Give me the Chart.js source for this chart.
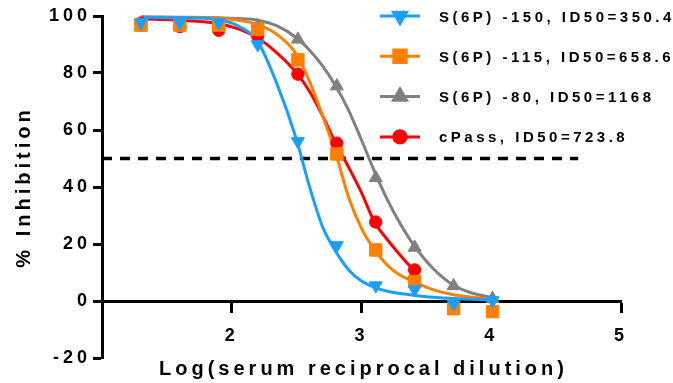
<!DOCTYPE html>
<html>
<head>
<meta charset="utf-8">
<script src="https://cdn.jsdelivr.net/npm/chart.js@4.4.1/dist/chart.umd.min.js"></script>
<style>
  html, body { margin: 0; padding: 0; background: #fff; }
  #wrap { width: 673px; height: 383px; }
</style>
</head>
<body>
<div id="wrap"><canvas id="chart" width="673" height="383"></canvas></div>
<script>
// log10 of the serum dilutions (1:20 ... 1:10240)
const dilutionX = [1.30, 1.60, 1.90, 2.20, 2.51, 2.81, 3.11, 3.41, 3.71, 4.01];

// measured % inhibition per sample
const s150Points = [97.7, 97.7, 97.7, 90.0, 56.0, 19.5, 5.4, 4.0, -1.0, 0.2];
const s115Points = [96.8, 96.8, 96.8, 95.3, 84.6, 51.6, 17.9, 6.8, -2.7, -3.7];
const s80Points  = [96.5, 97.0, 97.0, 96.5, 91.8, 75.4, 43.2, 18.8, 5.3, 0.8];
const cPassPoints = [97.5, 96.3, 95.0, 93.0, 79.6, 55.4, 27.7, 10.9];

// fitted curves
const curveX = [1.30, 1.60, 1.90, 2.05, 2.20, 2.35, 2.50, 2.60, 2.70, 2.80,
                2.90, 3.00, 3.10, 3.20, 3.30, 3.40, 3.55, 3.70, 3.85, 4.01];
const s150Curve = [99.5, 99.4, 98.7, 96.5, 91.0, 76.0, 56.5, 40.0, 26.0, 17.5,
                   11.0, 7.0, 4.8, 3.4, 2.6, 2.0, 1.3, 0.9, 0.6, 0.4];
const s115Curve = [99.6, 99.5, 99.2, 98.5, 97.0, 93.5, 86.5, 77.0, 65.0, 52.0,
                   36.5, 25.5, 18.0, 12.5, 9.0, 6.8, 4.0, 2.3, 1.3, 0.6];
const s80Curve  = [99.7, 99.6, 99.4, 99.1, 98.5, 96.5, 92.3, 88.0, 82.5, 75.5,
                   67.0, 56.5, 45.5, 35.5, 27.0, 19.8, 11.5, 5.8, 2.8, 1.2];
const cPassCurve = [99.0, 98.5, 97.3, 95.5, 92.3, 87.0, 80.0, 73.5, 65.0, 55.5,
                    47.0, 38.0, 27.7, 21.5, 16.0, 10.9];

const refX = [1.0, 4.67];
const refY = [50, 50];

const seriesLabels = ['S(6P) -150, ID50=350.4', 'S(6P) -115, ID50=658.6', 'S(6P) -80, ID50=1168', 'cPass, ID50=723.8'];
const seriesColors = ['#1a9ffa', '#ff8000', '#808080', '#ff0000'];
const seriesMarkers = [
  { pointStyle: 'triangle', rotation: 180, radius: 7.5 },
  { pointStyle: 'rect', rotation: 0, radius: 8.8 },
  { pointStyle: 'triangle', rotation: 0, radius: 7.5 },
  { pointStyle: 'circle', rotation: 0, radius: 6.2 }
];

const xTickValues = [2, 3, 4, 5];
const yTickValues = [-20, 0, 20, 40, 60, 80, 100];
const xTitle = 'Log(serum reciprocal dilution)';
const yTitle = '% Inhibition';

const FONT = '"Liberation Sans", Arial, sans-serif';
const SPACING = '4px';

const toXY = (xs, ys) => ys.map((y, i) => ({ x: xs[i], y }));

const pointSets = [s150Points, s115Points, s80Points, cPassPoints];
const curveSets = [s150Curve, s115Curve, s80Curve, cPassCurve];

const datasets = [];
pointSets.forEach((ys, i) => {
  datasets.push({
    label: seriesLabels[i],
    data: toXY(dilutionX, ys),
    showLine: false,
    pointStyle: seriesMarkers[i].pointStyle,
    rotation: seriesMarkers[i].rotation,
    pointRadius: seriesMarkers[i].radius,
    pointBackgroundColor: seriesColors[i],
    pointBorderColor: seriesColors[i],
    pointBorderWidth: 1,
    order: i + 1,
    clip: false
  });
});
curveSets.forEach((ys, i) => {
  datasets.push({
    label: seriesLabels[i] + ' fit',
    data: toXY(curveX, ys),
    showLine: true,
    borderColor: seriesColors[i],
    borderWidth: 3,
    pointRadius: 0,
    cubicInterpolationMode: 'monotone',
    order: i + 5,
    clip: false
  });
});
datasets.push({
  label: 'ID50 line',
  data: toXY(refX, refY),
  showLine: true,
  borderColor: '#000',
  borderWidth: 3.5,
  borderDash: [10, 8],
  pointRadius: 0,
  order: 9,
  clip: false
});

// canvas letter spacing, the figure uses wide tracking
const spacingPlugin = {
  id: 'spacing',
  beforeDraw(chart) { chart.ctx.letterSpacing = SPACING; }
};

// x title + legend drawn by hand (legend sits inside the plot)
const extrasPlugin = {
  id: 'extras',
  afterDraw(chart) {
    const ctx = chart.ctx;
    const a = chart.chartArea;
    ctx.save();
    ctx.letterSpacing = SPACING;
    ctx.fillStyle = '#000';
    ctx.font = 'bold 20px ' + FONT;
    ctx.textAlign = 'center';
    ctx.textBaseline = 'alphabetic';
    ctx.fillText(xTitle, (a.left + a.right) / 2 + 2, 375);

    ctx.font = 'bold 15px ' + FONT;
    ctx.letterSpacing = '3.5px';
    ctx.textAlign = 'left';
    seriesLabels.forEach((label, i) => {
      const y = 16 + i * 40.3;
      ctx.strokeStyle = seriesColors[i];
      ctx.lineWidth = 3;
      ctx.beginPath();
      ctx.moveTo(380, y);
      ctx.lineTo(420, y);
      ctx.stroke();
      ctx.fillStyle = seriesColors[i];
      Chart.helpers.drawPoint(ctx, {
        pointStyle: seriesMarkers[i].pointStyle,
        rotation: seriesMarkers[i].rotation,
        radius: seriesMarkers[i].radius,
        borderWidth: 1
      }, 400, y);
      ctx.fillStyle = '#000';
      ctx.fillText(label, 439, y + 5.5);
    });
    ctx.restore();
  }
};

new Chart(document.getElementById('chart').getContext('2d'), {
  type: 'scatter',
  data: { datasets },
  options: {
    responsive: false,
    animation: false,
    devicePixelRatio: 1,
    layout: { padding: { top: 16, right: 52, bottom: 25, left: 0 } },
    plugins: { legend: { display: false }, tooltip: { enabled: false } },
    scales: {
      x: {
        type: 'linear',
        min: 1, max: 5,
        position: { y: 0 },
        afterBuildTicks: s => { s.ticks = xTickValues.map(v => ({ value: v })); },
        border: { color: '#000', width: 3 },
        grid: { drawOnChartArea: false, drawTicks: true, tickLength: 10, tickWidth: 3, tickColor: '#000' },
        ticks: { color: '#000', padding: 14, font: { family: FONT, size: 18, weight: 'bold' } }
      },
      y: {
        min: -20, max: 100,
        afterBuildTicks: s => { s.ticks = yTickValues.map(v => ({ value: v })); },
        afterFit: s => { s.width = 102; },
        border: { color: '#000', width: 3 },
        grid: { drawOnChartArea: false, drawTicks: true, tickLength: 9, tickWidth: 3, tickColor: '#000' },
        ticks: { color: '#000', padding: 2, font: { family: FONT, size: 18, weight: 'bold' } },
        title: { display: true, text: yTitle, color: '#000', padding: { top: 12, bottom: 0 },
                 font: { family: FONT, size: 20, weight: 'bold' } }
      }
    }
  },
  plugins: [spacingPlugin, extrasPlugin]
});
</script>
</body>
</html>
